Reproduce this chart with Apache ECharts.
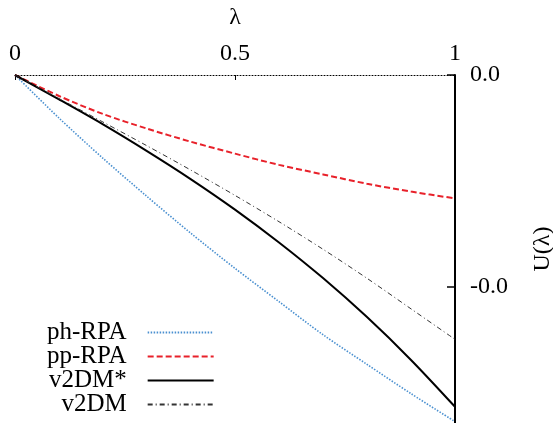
<!DOCTYPE html>
<html>
<head>
<meta charset="utf-8">
<script src="https://cdn.jsdelivr.net/npm/echarts@6/dist/echarts.min.js"></script>
<style>
html, body { margin: 0; padding: 0; background: #fff; }
#chart { width: 553px; height: 423px; }
</style>
</head>
<body>
<div id="chart"></div>
<script>
// lambda grid
const lambdas = [0, 0.1, 0.2, 0.3, 0.4, 0.5, 0.6, 0.7, 0.8, 0.9, 1]
// U(lambda)
const phRPA = [0, -0.00203, -0.00393, -0.00573, -0.00747, -0.00912, -0.01069, -0.01225, -0.01365, -0.01503, -0.01635]
const ppRPA = [0, -0.00099, -0.00184, -0.00253, -0.00315, -0.00371, -0.00424, -0.00469, -0.00513, -0.00550, -0.00582]
const v2DMstar = [0, -0.00115, -0.00233, -0.00359, -0.00492, -0.00635, -0.00790, -0.00958, -0.01142, -0.01344, -0.01565]
const v2DM = [0, -0.00111, -0.00222, -0.00334, -0.00449, -0.00568, -0.00692, -0.00822, -0.00959, -0.01103, -0.01247]
const yTicks = [0, -0.01]

const font = 'Liberation Serif'

function pairs(ys) {
  return lambdas.map((x, i) => [x, ys[i]])
}

const chart = echarts.init(document.getElementById('chart'))

const option = {
  animation: false,
  backgroundColor: '#fff',
  textStyle: { fontFamily: font, color: '#000' },
  grid: { left: 15, right: 98, top: 75, bottom: 0, outerBoundsMode: 'none', containLabel: false },
  legend: {
    orient: 'vertical',
    align: 'right',
    left: 47,
    top: 320,
    height: 100,
    padding: 0,
    itemGap: -1,
    itemWidth: 66,
    itemHeight: 14,
    itemStyle: { opacity: 0 },
    textStyle: { fontFamily: font, fontSize: 25, color: '#000', lineHeight: 22, padding: [0, 16, 0, 0] },
    data: ['ph-RPA', 'pp-RPA', 'v2DM*', 'v2DM']
  },
  xAxis: {
    type: 'value',
    position: 'top',
    min: 0,
    max: 1,
    interval: 0.5,
    name: 'λ',
    nameLocation: 'middle',
    nameGap: 45,
    nameMoveOverlap: false,
    nameTextStyle: { fontFamily: font, fontSize: 24, color: '#000' },
    axisLine: { show: true, onZero: false, lineStyle: { color: '#000', width: 1, type: [1, 2] } },
    axisTick: { show: true, inside: true, length: 5, lineStyle: { color: '#000', width: 1 } },
    axisLabel: { fontFamily: font, fontSize: 24, color: '#000', margin: 9 },
    splitLine: { show: false }
  },
  yAxis: {
    type: 'value',
    position: 'right',
    min: -0.016415,
    max: 0,
    name: 'U(λ)',
    nameLocation: 'middle',
    nameRotate: 90,
    nameGap: 76,
    nameMoveOverlap: false,
    nameTextStyle: { fontFamily: font, fontSize: 24, color: '#000' },
    axisLine: { show: true, onZero: false, lineStyle: { color: '#000', width: 2 } },
    axisTick: { show: true, inside: true, length: 8, customValues: yTicks, lineStyle: { color: '#000', width: 1.5 } },
    axisLabel: {
      fontFamily: font,
      fontSize: 24,
      color: '#000',
      margin: 15,
      customValues: yTicks,
      formatter: v => v.toFixed(1)
    },
    splitLine: { show: false }
  },
  series: [
    {
      name: 'ph-RPA',
      type: 'line',
      data: pairs(phRPA),
      smooth: 0.3,
      symbol: 'none',
      color: '#4a90d0',
      lineStyle: { color: '#4a90d0', width: 1.6, type: [1.5, 1.5] }
    },
    {
      name: 'pp-RPA',
      type: 'line',
      data: pairs(ppRPA),
      smooth: 0.3,
      symbol: 'none',
      color: '#e8212a',
      lineStyle: { color: '#e8212a', width: 2, type: [6, 3] }
    },
    {
      name: 'v2DM*',
      type: 'line',
      data: pairs(v2DMstar),
      smooth: 0.3,
      symbol: 'none',
      color: '#000',
      lineStyle: { color: '#000', width: 2, type: 'solid' }
    },
    {
      name: 'v2DM',
      type: 'line',
      data: pairs(v2DM),
      smooth: 0.3,
      symbol: 'none',
      color: '#333',
      lineStyle: { color: '#333', width: 1, type: [5, 3, 1, 3] }
    }
  ]
}

chart.setOption(option)

window.addEventListener('resize', function() {
  chart.resize()
})
</script>
</body>
</html>
